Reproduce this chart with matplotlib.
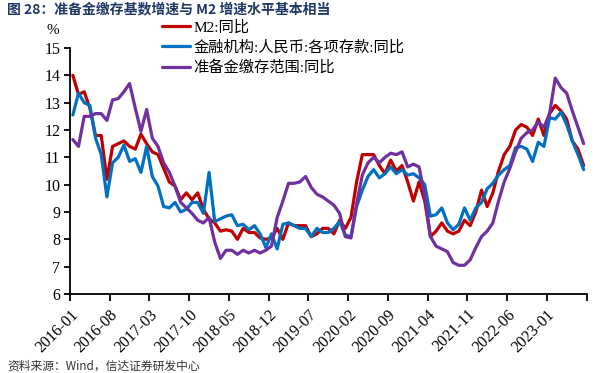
import numpy as np
import pandas as pd
import matplotlib
matplotlib.use("Agg")
import matplotlib.pyplot as plt
from matplotlib.font_manager import FontProperties

# ---- data: monthly yoy, 2016-01 .. 2023-07 ----
months = pd.period_range("2016-01", periods=91, freq="M").strftime("%Y-%m").tolist()

m2 = [14.0, 13.3, 13.4, 12.8, 11.8, 11.8, 10.2, 11.4, 11.5, 11.6, 11.4, 11.3,
      11.85, 11.5, 11.2, 11.1, 10.6, 10.1, 9.95, 9.45, 9.7, 9.45, 9.7, 9.1,
      8.75, 8.6, 8.3, 8.35, 8.3, 8.0, 8.4, 8.25, 8.25, 8.05, 8.0, 8.05,
      8.4, 8.0, 8.6, 8.5, 8.5, 8.5, 8.1, 8.2, 8.4, 8.4, 8.2, 8.7,
      8.4, 8.8, 10.1, 11.1, 11.1, 11.1, 10.7, 10.4, 10.9, 10.5, 10.7, 10.1,
      9.4, 10.1, 9.4, 8.1, 8.3, 8.6, 8.3, 8.2, 8.3, 8.7, 8.5, 9.0,
      9.8, 9.2, 9.7, 10.5, 11.1, 11.4, 12.0, 12.2, 12.1, 11.8, 12.4, 11.8,
      12.6, 12.9, 12.7, 12.4, 11.6, 11.3, 10.7]

deposits = [12.55, 13.35, 13.0, 12.9, 11.7, 11.1, 9.55, 10.8, 11.0, 11.45, 10.85, 10.95,
            10.45, 11.4, 10.3, 9.95, 9.2, 9.15, 9.35, 9.0, 9.1, 9.35, 9.35, 8.95,
            10.45, 8.65, 8.75, 8.85, 8.9, 8.5, 8.55, 8.35, 8.5, 8.2, 7.7, 8.2,
            7.65, 8.55, 8.6, 8.5, 8.4, 8.4, 8.1, 8.4, 8.25, 8.25, 8.4, 8.65,
            8.15, 8.1, 9.2, 9.8, 10.3, 10.55, 10.25, 10.4, 10.65, 10.4, 10.55, 10.35,
            10.4, 10.25, 10.0, 8.85, 8.9, 9.15, 8.6, 8.35, 8.55, 9.15, 8.7, 9.15,
            9.35, 9.85, 10.05, 10.35, 10.55, 10.7, 11.35, 11.4, 11.3, 10.85, 11.55, 11.4,
            12.45, 12.4, 12.65, 12.2, 11.6, 11.1, 10.55]

reserve_base = [11.65, 11.4, 12.5, 12.5, 12.6, 12.6, 12.35, 13.1, 13.15, 13.4, 13.7, 12.8,
                11.95, 12.75, 11.7, 11.4, 10.8, 10.45, 9.95, 9.35, 9.15, 8.95, 8.7, 8.6,
                8.8, 7.9, 7.3, 7.6, 7.6, 7.45, 7.6, 7.5, 7.6, 7.5, 7.6, 7.75,
                8.8, 9.4, 10.05, 10.05, 10.1, 10.3, 9.9, 9.65, 9.55, 9.4, 9.25, 8.95,
                8.1, 8.05, 9.3, 10.35, 10.8, 11.0, 10.8, 11.0, 11.15, 11.1, 11.2, 10.65,
                10.75, 10.65, 9.6, 8.1, 7.75, 7.65, 7.55, 7.15, 7.05, 7.05, 7.25, 7.7,
                8.1, 8.3, 8.6, 9.4, 10.1, 10.6, 11.2, 11.7, 11.9, 12.0, 12.3, 12.1,
                12.6, 13.9, 13.55, 13.35, 12.7, 12.1, 11.5]

labels = ["M2:同比", "金融机构:人民币:各项存款:同比", "准备金缴存范围:同比"]
colors = ["#C00000", "#0070C0", "#7030A0"]

mixed = ["Liberation Serif", "Noto Sans CJK SC"]

fig = plt.figure(figsize=(6.05, 3.73), dpi=100)
ax = fig.add_axes([70 / 605, 1 - 294 / 373, (586.5 - 70) / 605, (294 - 48) / 373])

x = np.arange(len(months))
for ys, lab, c in zip([m2, deposits, reserve_base], labels, colors):
    ax.plot(x, ys, color=c, lw=2.3, label=lab,
            solid_joinstyle="round", solid_capstyle="round")

ax.set_xlim(-0.5, len(months) - 0.5)
ax.set_ylim(6, 15)
ax.set_yticks(range(6, 16))

# category axis: a tick every 7 months at the category edge, last one unlabeled
tick_pos = np.arange(0, len(months) + 1, 7) - 0.5
tick_lab = [months[i] if i < len(months) else "" for i in range(0, len(months) + 1, 7)]
ax.set_xticks(tick_pos)
ax.set_xticklabels(tick_lab, rotation=45, ha="right", rotation_mode="anchor",
                   family="Liberation Serif", fontsize=11.5)
for t in ax.get_yticklabels():
    t.set_family("Liberation Serif")
    t.set_fontsize(11.5)

for s in ["top", "right"]:
    ax.spines[s].set_visible(False)
for s in ["left", "bottom"]:
    ax.spines[s].set_linewidth(1.3)
ax.tick_params(axis="both", direction="out", length=4, width=1.3, pad=3)
ax.tick_params(axis="x", length=5, pad=4)

fig.legend(loc="upper left", bbox_to_anchor=(162 / 605, 1 - 20 / 373),
           frameon=False, borderaxespad=0, borderpad=0,
           handlelength=1.8, handletextpad=0.25, labelspacing=0.38,
           prop=FontProperties(family=mixed, size=11))

fig.text(53 / 605, 1 - 31 / 373, "%", ha="center", va="center",
         family="Liberation Serif", fontsize=11)

fig.text(7 / 605, 1 - 9 / 373, "图 28：准备金缴存基数增速与 M2 增速水平基本相当",
         ha="left", va="center", fontsize=10, fontweight="bold",
         color="#1F3864", family=["Noto Sans CJK SC"])

fig.text(7 / 605, 1 - 360 / 373, "资料来源：Wind，信达证券研发中心",
         ha="left", va="top", fontsize=8.5, color="#333333",
         family=["Noto Sans CJK SC"])

fig.savefig("out.png", dpi=100)
